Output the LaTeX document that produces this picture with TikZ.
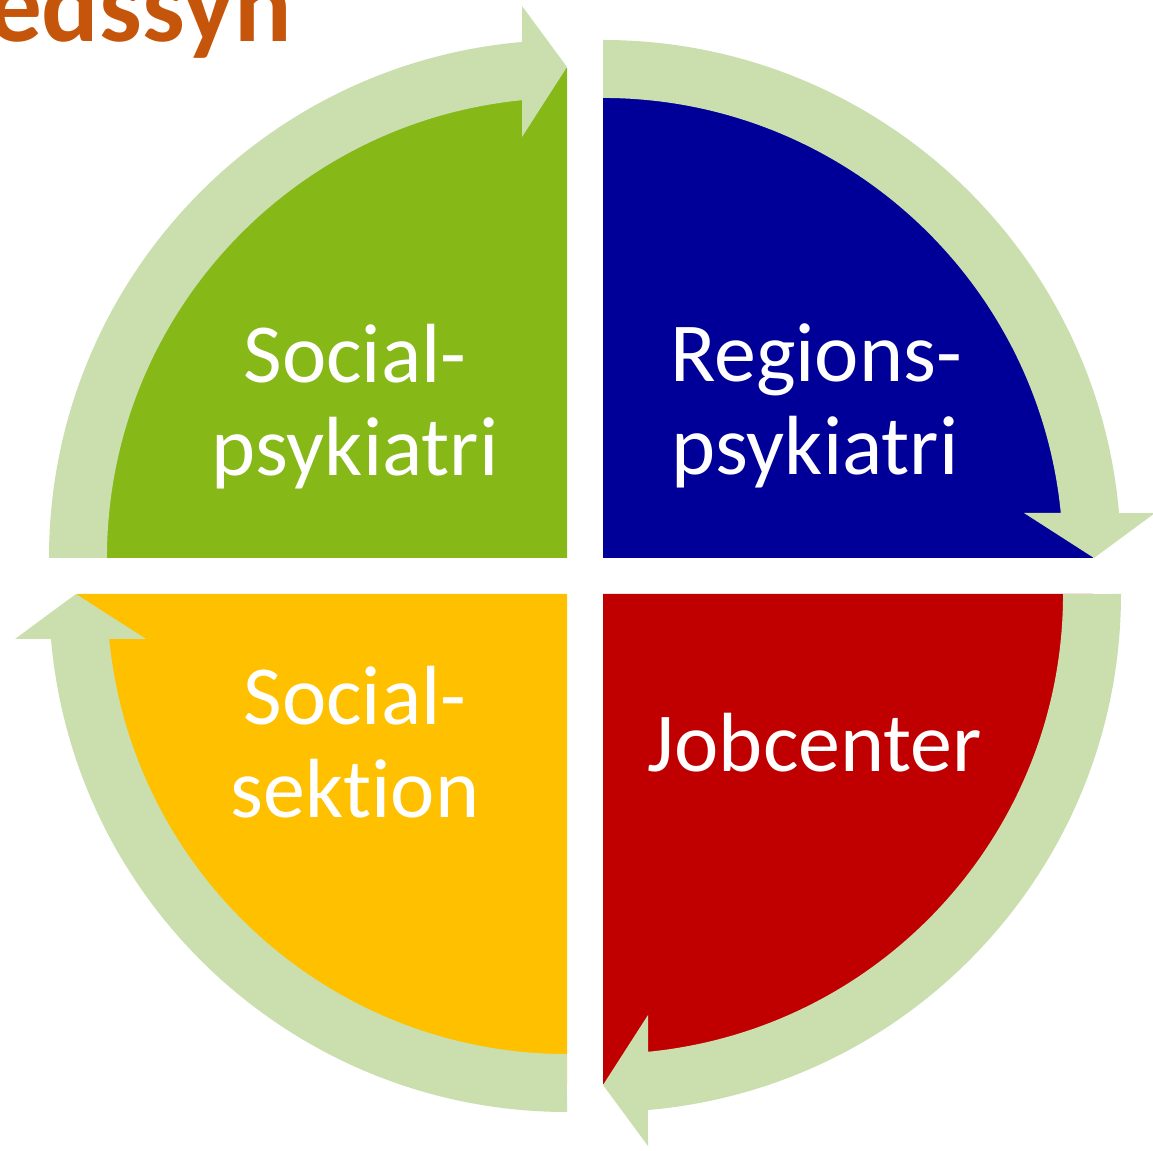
\documentclass[tikz,border=0pt]{standalone}
\usepackage{fontspec}
\setmainfont{Carlito}[Ligatures={NoCommon,NoRare}]
\definecolor{qgreen}{RGB}{134,184,23}
\definecolor{qblue}{RGB}{0,0,153}
\definecolor{qred}{RGB}{192,0,0}
\definecolor{qyellow}{RGB}{255,192,0}
\definecolor{arrowfill}{RGB}{202,223,173}
\definecolor{titlecol}{RGB}{197,85,10}
\newcommand\cycarrow[2]{%
  \fill[arrowfill, shift={#1}, rotate=#2]
    (180:518) arc[start angle=180, end angle=94.98, radius=518]
    -- (-45,552) -- (0,491) -- (-45,421) -- (-45,457.8)
    arc[start angle=95.61, end angle=180, radius=460] -- cycle;}
\begin{document}
\begin{tikzpicture}[x=0.02cm,y=0.02cm,
  lbl/.style={text=white, font=\fontsize{47.8}{56}\selectfont, anchor=base, inner sep=0pt},
  ttl/.style={text=titlecol, font=\bfseries\fontsize{61}{70}\selectfont, anchor=base east, inner sep=0pt}]
\useasboundingbox (0,0) rectangle (1153,1150);
% quadrants
\fill[qgreen]  (567,592) -- ++(180:490) arc[start angle=180, end angle=90, radius=490] -- cycle;
\fill[qblue]   (603,592) -- ++(90:490) arc[start angle=90, end angle=0, radius=490] -- cycle;
\fill[qred]    (603,556) -- ++(0:490) arc[start angle=0, end angle=-90, radius=490] -- cycle;
\fill[qyellow] (567,556) -- ++(-90:490) arc[start angle=-90, end angle=-180, radius=490] -- cycle;
% circular arrows
\cycarrow{(567,592)}{0}
\cycarrow{(603,592)}{-90}
\cycarrow{(603,556)}{-180}
\cycarrow{(567,556)}{90}
% labels
\node[lbl] (g1) at (355,767) {Social-};
\node[lbl] (g2) at (355,674) {psykiatri};
\node[lbl] (b1) at (816,768) {Regions-};
\node[lbl] (b2) at (815,675) {psykiatri};
\node[lbl] (r1) at (815,378) {Jobcenter};
\node[lbl] (y1) at (355,425) {Social-};
\node[lbl] (y2) at (355,332) {sektion};
% title (cut by the page edge, as in the reference)
\node[ttl] (title) at (292,1108) {edssyn};
\end{tikzpicture}
\end{document}
